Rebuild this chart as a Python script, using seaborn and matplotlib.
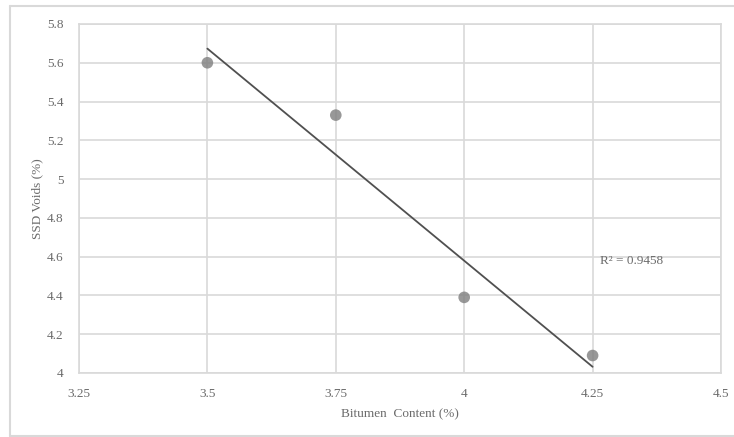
import matplotlib
matplotlib.use("Agg")
import numpy as np
import pandas as pd
import seaborn as sns
import matplotlib.pyplot as plt
from matplotlib.lines import Line2D

# data
bitumen = [3.5, 3.75, 4.0, 4.25]
voids = [5.6, 5.33, 4.39, 4.09]
x_ticks = [3.25, 3.5, 3.75, 4.0, 4.25, 4.5]
x_labels = ["3.25", "3.5", "3.75", "4", "4.25", "4.5"]
y_ticks = [4.0, 4.2, 4.4, 4.6, 4.8, 5.0, 5.2, 5.4, 5.6, 5.8]
y_labels = ["4", "4.2", "4.4", "4.6", "4.8", "5", "5.2", "5.4", "5.6", "5.8"]
r2_text = "R\u00b2 = 0.9458"

df = pd.DataFrame({"Bitumen": bitumen, "Voids": voids})

sns.set_style("white")
plt.rcParams['font.family'] = ['Liberation Serif', 'DejaVu Serif']

fig = plt.figure(figsize=(7.34, 4.37), dpi=100)
ax = fig.add_axes([0.1076, 0.1465, 0.8747, 0.7986])

# outer frame of the chart (left, top, bottom; right side runs off the image)
W, H = 734, 437
frame_kw = dict(transform=fig.transFigure, color="#d9d9d9", linewidth=1.5)
fig.lines.append(Line2D([10 / W, 10 / W], [1 - 6 / H, 1 - 436 / H], **frame_kw))
fig.lines.append(Line2D([10 / W, 1.0], [1 - 6 / H, 1 - 6 / H], **frame_kw))
fig.lines.append(Line2D([10 / W, 1.0], [1 - 436 / H, 1 - 436 / H], **frame_kw))

sns.regplot(data=df, x="Bitumen", y="Voids", ax=ax, ci=None,
            scatter_kws={"s": 70, "color": "#7f7f7f", "edgecolor": "none", "zorder": 3},
            line_kws={"color": "#505050", "linewidth": 1.3})

ax.set_xlim(3.25, 4.5)
ax.set_ylim(4.0, 5.8)
ax.set_xticks(x_ticks)
ax.set_xticklabels(x_labels)
ax.set_yticks(y_ticks)
ax.set_yticklabels(y_labels)
ax.grid(True, color="#d9d9d9", linewidth=1.2)
ax.set_axisbelow(True)
for s in ax.spines.values():
    s.set_color("#d9d9d9")
    s.set_linewidth(1.2)
ax.tick_params(axis="both", length=0, labelsize=9.5, colors="#6b6b6b")
ax.tick_params(axis="x", pad=11)
ax.tick_params(axis="y", pad=11)

ax.set_xlabel("Bitumen  Content (%)", fontsize=9.5, color="#6b6b6b", labelpad=6)
ax.set_ylabel("SSD Voids (%)", fontsize=9.5, color="#6b6b6b", labelpad=3)

ax.text(4.264, 4.578, r2_text, fontsize=9.5, color="#6b6b6b", va="center", ha="left")

fig.savefig("out.png", dpi=100)
